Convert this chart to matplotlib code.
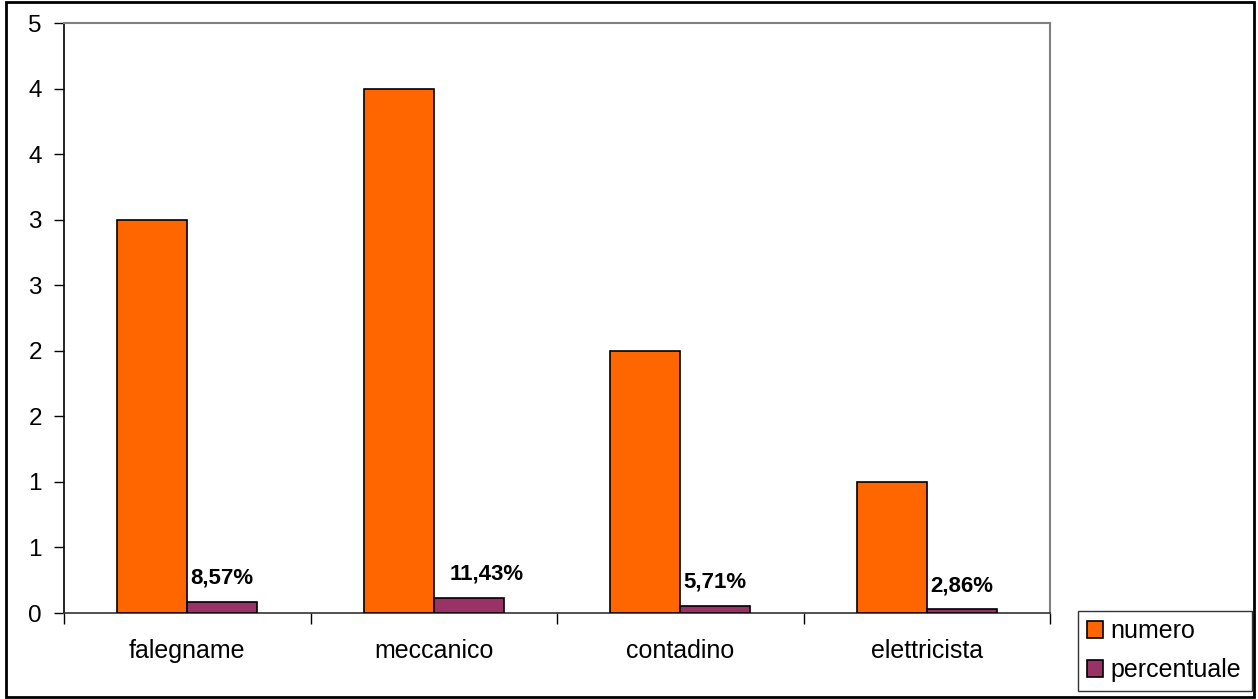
import matplotlib
matplotlib.use("Agg")
import matplotlib.pyplot as plt
from matplotlib.ticker import MultipleLocator, FuncFormatter, FixedLocator
from matplotlib.patches import Rectangle
import numpy as np
import math

categories = ["falegname", "meccanico", "contadino", "elettricista"]
numero = [3, 4, 2, 1]
percentuale = [0.0857, 0.1143, 0.0571, 0.0286]
perc_labels = ["8,57%", "11,43%", "5,71%", "2,86%"]
series_names = ["numero", "percentuale"]

plt.rcParams['font.family'] = ['Liberation Sans', 'DejaVu Sans']

W, H = 1258, 699
fig = plt.figure(figsize=(W / 100, H / 100), dpi=100)
ax = fig.add_axes([64 / W, (H - 613) / H, (1050 - 64) / W, (613 - 23) / H])

x = np.arange(len(categories))
bw = 0.284
orange = "#FF6600"
purple = "#993366"
b1 = ax.bar(x - bw / 2, numero, bw, color=orange, edgecolor="black", linewidth=1.2, label=series_names[0], zorder=3)
b2 = ax.bar(x + bw / 2, percentuale, bw, color=purple, edgecolor="black", linewidth=1.2, label=series_names[1], zorder=3)

xoffs = [0, 13, 0, 0]
for i, (xi, v, lab) in enumerate(zip(x, percentuale, perc_labels)):
    ax.annotate(lab, (xi + bw / 2, v), xytext=(xoffs[i], 17), textcoords="offset points",
                ha="center", va="center", fontsize=16, fontweight="bold", zorder=4)

ax.set_xlim(-0.5, len(categories) - 0.5)
ax.set_ylim(0, 4.5)
ax.yaxis.set_major_locator(MultipleLocator(0.5))
ax.yaxis.set_major_formatter(FuncFormatter(lambda v, p: str(int(math.floor(v + 0.5 + 1e-9)))))
ax.tick_params(axis="y", direction="out", length=7, width=1, labelsize=17.5, pad=9)

ax.set_xticks(x)
ax.set_xticklabels(categories, fontsize=18)
ax.tick_params(axis="x", which="major", length=0, pad=19)
ax.xaxis.set_minor_locator(FixedLocator(np.arange(-0.5, len(categories) + 0.5, 1.0)))
ax.tick_params(axis="x", which="minor", direction="out", length=8, width=1)

for s in ["top", "right"]:
    ax.spines[s].set_color("#808080")
    ax.spines[s].set_linewidth(1.5)
ax.spines["left"].set_color("black")
ax.spines["bottom"].set_color("#333333")
ax.spines["left"].set_linewidth(1.2)
ax.spines["bottom"].set_linewidth(1.2)

leg = fig.legend(handles=[b1, b2], labels=series_names,
                 loc="lower left", bbox_to_anchor=(1078 / W, (H - 691) / H, (1252 - 1078) / W, (691 - 605) / H),
                 mode="expand", fontsize=18, frameon=True, fancybox=False, shadow=False,
                 handlelength=0.65, handleheight=0.65, handletextpad=0.3, labelspacing=0.6,
                 borderpad=0.35, borderaxespad=0)
leg.get_frame().set_edgecolor("black")
leg.get_frame().set_linewidth(1.0)

fig.patches.append(Rectangle((6 / W, 2 / H), (1254 - 6) / W, (697 - 2) / H, transform=fig.transFigure,
                             fill=False, edgecolor="black", linewidth=2))

fig.savefig("out.png", dpi=100)
